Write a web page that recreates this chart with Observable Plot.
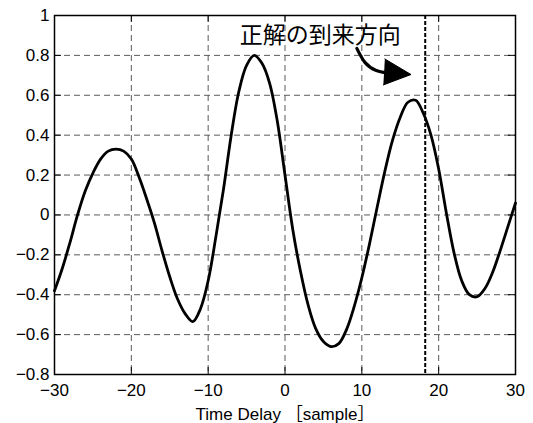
<!DOCTYPE html>
<html>
<head>
<meta charset="utf-8">
<script src="https://cdn.jsdelivr.net/npm/d3@7"></script>
<script src="https://cdn.jsdelivr.net/npm/@observablehq/plot@0.6"></script>
<style>
  html, body { margin: 0; padding: 0; background: white; }
</style>
</head>
<body>
<div id="chart"></div>
<script>
// Time delay (samples)
const delay = [-30,-29,-28,-27,-26,-25,-24,-23,-22,-21,-20,-19,-18,-17,-16,-15,-14,-13,-12,-11,-10,
  -9,-8,-7,-6,-5,-4,-3,-2,-1,0,1,2,3,4,5,6,7,8,9,10,
  11,12,13,14,15,16,17,18,19,20,21,22,23,24,25,26,27,28,29,30];
// Correlation value
const value = [-0.38,-0.27,-0.14,0.00,0.12,0.21,0.28,0.32,0.33,0.32,0.28,0.19,0.08,-0.04,-0.18,-0.31,-0.42,-0.495,-0.535,-0.47,-0.33,
  -0.11,0.13,0.40,0.62,0.75,0.80,0.76,0.66,0.47,0.20,-0.07,-0.28,-0.45,-0.57,-0.635,-0.66,-0.645,-0.575,-0.46,-0.315,
  -0.145,0.04,0.22,0.375,0.49,0.565,0.575,0.51,0.40,0.23,0.01,-0.19,-0.33,-0.40,-0.41,-0.37,-0.29,-0.18,-0.06,0.06];

const xTicks = [-30,-20,-10,0,10,20,30];
const yTicks = [-0.8,-0.6,-0.4,-0.2,0,0.2,0.4,0.6,0.8,1];
const trueDirection = [18.25];
const xLabel = ["Time Delay ［sample］"];

const noteText = ["正解の到来方向"];
const noteX = [4.6];
const noteY = [0.90];
const shaftX = [9.35, 10.4, 11.8, 13.3];
const shaftY = [0.835, 0.765, 0.726, 0.712];
const headX = [13.0, 16.4, 12.8];
const headY = [0.782, 0.704, 0.652];

const curve = delay.map((d, i) => ({x: d, y: value[i]}));
const shaft = shaftX.map((d, i) => ({x: d, y: shaftY[i]}));
const head = headX.map((d, i) => ({x: d, y: headY[i]}));
const note = noteText.map((t, i) => ({t, x: noteX[i], y: noteY[i]}));

const W = 533, H = 423, mL = 54, mR = 18, mT = 15, mB = 49;
const innerW = W - mL - mR, innerH = H - mT - mB, tl = 7;
const fmt = d => String(Math.round(d * 10) / 10).replace("-", "\u2212");

const chart = Plot.plot({
  width: W, height: H,
  marginLeft: mL, marginRight: mR, marginTop: mT, marginBottom: mB,
  style: {fontFamily: "'Liberation Sans', Arial, sans-serif", fontSize: "17px", background: "white", color: "black"},
  x: {domain: [-30, 30]},
  y: {domain: [-0.8, 1]},
  marks: [
    Plot.ruleX(xTicks.slice(1, -1), {stroke: "#5a5a5a", strokeWidth: 1, strokeDasharray: "6,4"}),
    Plot.ruleY(yTicks.slice(1, -1), {stroke: "#5a5a5a", strokeWidth: 1, strokeDasharray: "6,4"}),
    Plot.tickX(xTicks, {x: d => d, insetTop: innerH - tl, stroke: "black"}),
    Plot.tickX(xTicks, {x: d => d, insetBottom: innerH - tl, stroke: "black"}),
    Plot.tickY(yTicks, {y: d => d, insetRight: innerW - tl, stroke: "black"}),
    Plot.tickY(yTicks, {y: d => d, insetLeft: innerW - tl, stroke: "black"}),
    Plot.ruleX(trueDirection, {stroke: "black", strokeWidth: 2, strokeDasharray: "4,2"}),
    Plot.line(curve, {x: "x", y: "y", curve: "catmull-rom", stroke: "black", strokeWidth: 2.8}),
    Plot.line(shaft, {x: "x", y: "y", curve: "natural", stroke: "black", strokeWidth: 3.2}),
    Plot.line(head, {x: "x", y: "y", fill: "black", stroke: "black", strokeWidth: 1}),
    Plot.text(note, {x: "x", y: "y", text: "t", fontSize: 23, fontFamily: "'Noto Sans CJK JP', sans-serif", fill: "black", textAnchor: "middle", lineAnchor: "middle"}),
    Plot.axisX({ticks: xTicks, tickSize: 0, tickPadding: 9, tickFormat: fmt, fontSize: 17, label: null}),
    Plot.axisY({ticks: yTicks, tickSize: 0, tickPadding: 5, tickFormat: fmt, fontSize: 17, label: null}),
    Plot.text(xLabel, {frameAnchor: "bottom", dy: 40, text: d => d, fontSize: 17, lineAnchor: "middle", fill: "black", fontFamily: "'Liberation Sans', 'Noto Sans CJK JP', sans-serif"}),
    Plot.frame({stroke: "black", strokeWidth: 1.5})
  ]
});
document.getElementById("chart").appendChild(chart);
</script>
</body>
</html>
